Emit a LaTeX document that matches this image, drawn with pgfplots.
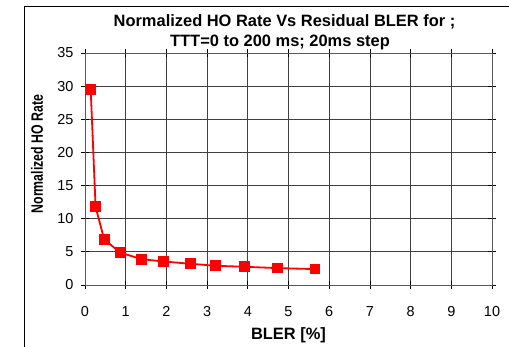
\documentclass[border=0pt]{standalone}
\usepackage{pgfplots}
\pgfplotsset{compat=1.18}
\usepackage{fontspec}
\setmainfont{Liberation Sans}
\begin{document}
\begin{tikzpicture}
\useasboundingbox (0,0) rectangle (509bp,347bp);
\fill[white] (0,0) rectangle (509bp,347bp);
\draw[black, line width=1bp] (24bp,0) -- (24bp,340.5bp) -- (509bp,340.5bp);
\begin{axis}[
  scale only axis,
  width=407bp, height=232bp,
  at={(85bp,62bp)}, anchor=south west,
  xmin=0, xmax=10, ymin=0, ymax=35,
  xtick={0,...,10}, ytick={0,5,...,35},
  grid=major,
  major grid style={gray!50!black, line width=0.8bp},
  axis line style={gray!70!black, line width=0.8bp},
  tick style={black, line width=0.8bp},
  tick align=center,
  major tick length=8bp,
  every tick label/.append style={font=\fontsize{14.5}{16}\selectfont},
  /pgf/number format/assume math mode=true,
  xticklabel style={yshift=-14bp},
  yticklabel style={xshift=-4bp},
]
\addplot[red, line width=1.8bp, mark=square*, mark size=4.5bp, mark options={solid, fill=red}]
coordinates {
(0.14,29.5) (0.26,11.8) (0.47,6.9) (0.86,4.9) (1.39,3.9) (1.92,3.55)
(2.6,3.2) (3.21,2.9) (3.91,2.75) (4.72,2.55) (5.65,2.4)
};
\end{axis}
\node[font=\bfseries\fontsize{16.5}{18}\selectfont] at (284.5bp,325bp) {Normalized HO Rate Vs Residual BLER for ;};
\node[font=\bfseries\fontsize{16.5}{18}\selectfont] at (280bp,305bp) {TTT=0 to 200 ms; 20ms step};
\node[font=\bfseries\fontsize{16.5}{18}\selectfont] at (288.5bp,12bp) {BLER [\%]};
\node[font=\bfseries\fontsize{16.5}{18}\selectfont, rotate=90, xscale=0.75] at (37bp,193bp) {Normalized HO Rate};
\end{tikzpicture}
\end{document}
